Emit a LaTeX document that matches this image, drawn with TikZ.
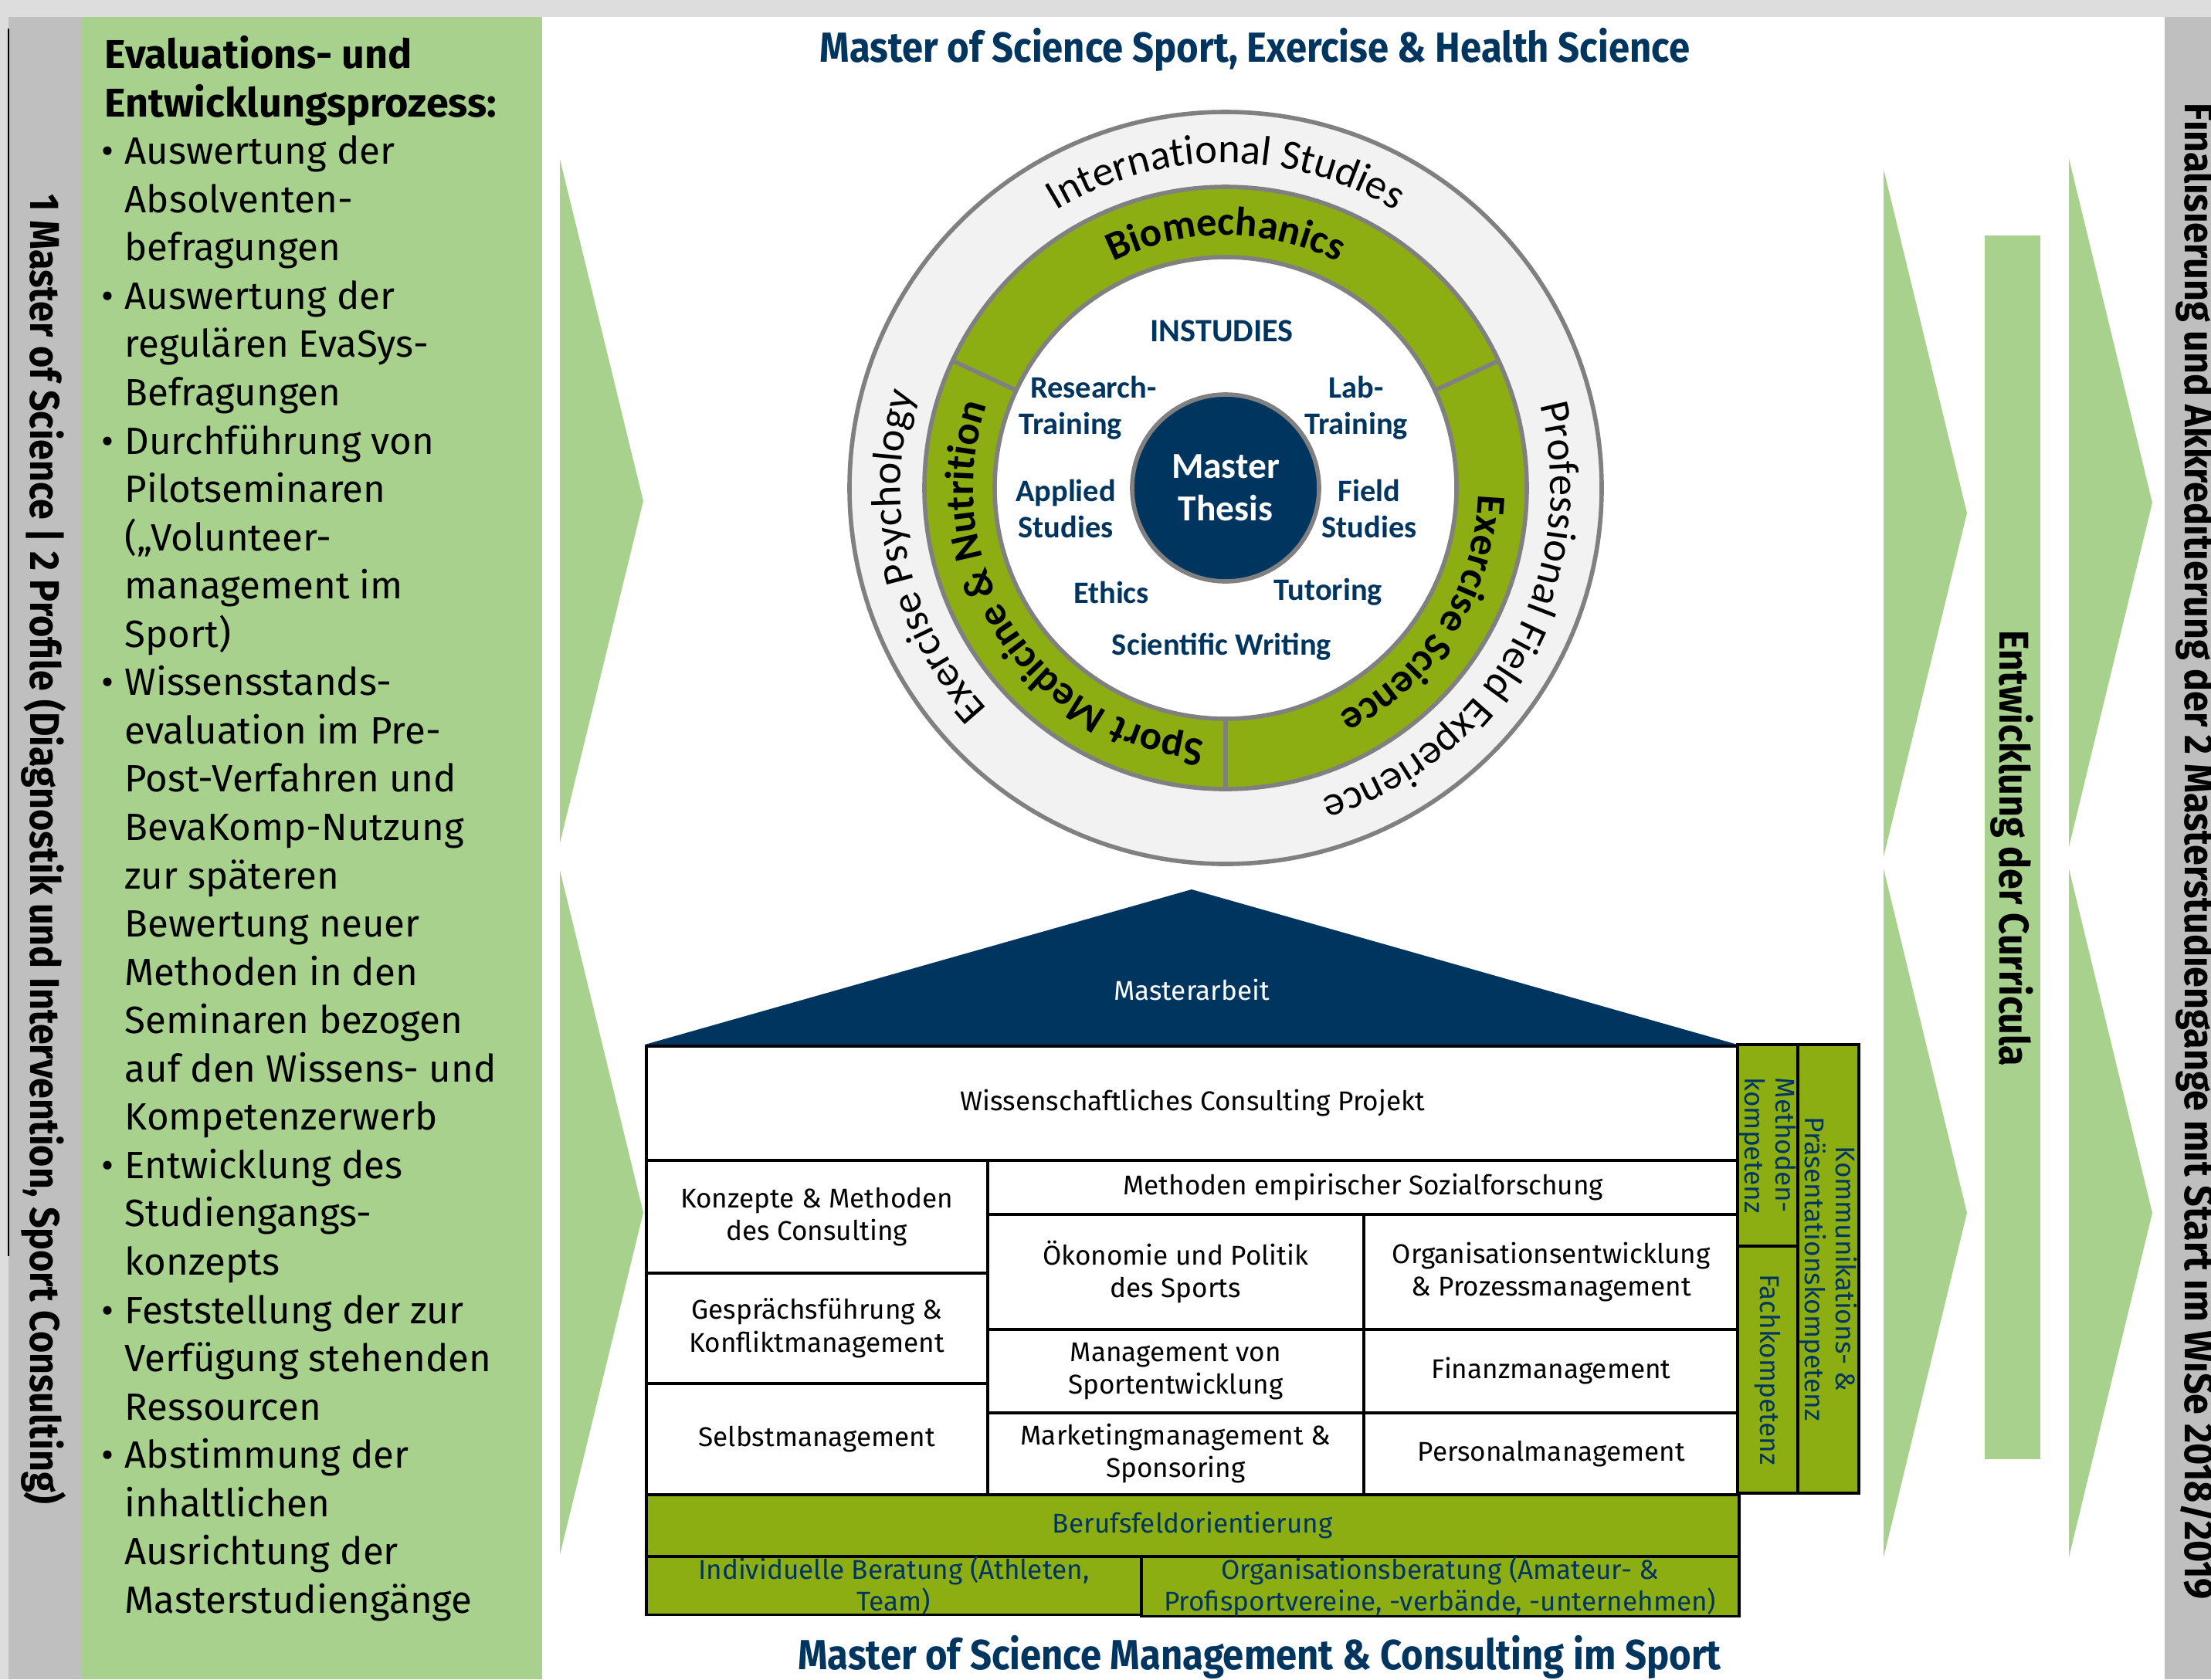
\documentclass[tikz,border=0pt]{standalone}
\usepackage{fontspec}
\usepackage{tikz}
\usetikzlibrary{decorations.text}

\setmainfont{Fira Sans}
\newfontfamily\calfont{Carlito}
\newfontfamily\condfont[FakeStretch=0.9]{Fira Sans}

\definecolor{lightgreen}{RGB}{169,209,142}
\definecolor{olive}{RGB}{141,174,18}
\definecolor{navy}{RGB}{0,53,96}
\definecolor{stripgray}{RGB}{191,191,191}
\definecolor{topgray}{RGB}{221,221,221}
\definecolor{ringgray}{RGB}{128,128,128}
\definecolor{ringfill}{RGB}{242,242,242}

\newcommand{\ringfont}{\calfont\fontsize{15.5}{18}\selectfont}
\newcommand{\ringbold}{\calfont\bfseries\fontsize{15}{18}\selectfont}
\newcommand{\itembullet}{\llap{\textbullet\hspace{4pt}}}

\tikzset{
  cell/.style={draw, line width=1pt, fill=white, inner sep=0pt, anchor=north west, align=center, font=\fontsize{10}{12}\selectfont},
  band/.style={cell, fill=olive, text=navy, font=\fontsize{10}{10.4}\selectfont},
  skill/.style={draw, line width=1pt, fill=olive, text=navy, inner sep=0pt, rotate=-90, align=center, font=\fontsize{10}{11.2}\selectfont},
  inlab/.style={text=navy, align=center, font=\calfont\bfseries\fontsize{11.5}{13.5}\selectfont},
  headline/.style={text=navy, font=\condfont\bfseries\fontsize{15.5}{18}\selectfont},
  sidetext/.style={rotate=-90, font=\condfont\bfseries\fontsize{15.3}{18}\selectfont},
  ringtext/.style={decorate, decoration={text along path, text align=center, text={#1}}}
}

\begin{document}
\begin{tikzpicture}
\useasboundingbox (0,0) rectangle (28.63,-21.75);

% frame and side strips
\fill[topgray] (0,0) rectangle (28.63,-0.22);
\fill[topgray] (0,-0.22) rectangle (0.11,-21.75);
\fill[stripgray] (0.11,-0.22) rectangle (1.06,-21.75);
\fill[lightgreen] (1.06,-0.22) rectangle (7.02,-21.75);
\fill[stripgray] (28.03,-0.22) rectangle (28.63,-21.75);
\draw[line width=0.5pt] (0.11,-0.37) -- (0.11,-16.27);

\node[sidetext] (profile) at (0.57,-11.00) {1 Master of Science | 2 Profile (Diagnostik und Intervention, Sport Consulting)};
\node[sidetext] (final) at (28.45,-11.03) {Finalisierung und Akkreditierung der 2 Masterstudiengänge mit Start im WiSe 2018/2019};

% evaluation panel
\node[anchor=north west, align=left, inner sep=0pt, font=\bfseries\fontsize{14.8}{17.8}\selectfont] (evalhead) at (1.35,-0.46) {Evaluations- und\\Entwicklungsprozess:};
\node[anchor=north west, align=left, inner sep=0pt, font=\fontsize{14}{17.8}\selectfont] (evallist) at (1.61,-1.75) {%
\itembullet Auswertung der\\
Absolventen-\\
befragungen\\
\itembullet Auswertung der\\
regulären EvaSys-\\
Befragungen\\
\itembullet Durchführung von\\
Pilotseminaren\\
(„Volunteer-\\
management im\\
Sport)\\
\itembullet Wissensstands-\\
evaluation im Pre-\\
Post-Verfahren und\\
BevaKomp-Nutzung\\
zur späteren\\
Bewertung neuer\\
Methoden in den\\
Seminaren bezogen\\
auf den Wissens- und\\
Kompetenzerwerb\\
\itembullet Entwicklung des\\
Studiengangs-\\
konzepts\\
\itembullet Feststellung der zur\\
Verfügung stehenden\\
Ressourcen\\
\itembullet Abstimmung der\\
inhaltlichen\\
Ausrichtung der\\
Masterstudiengänge};

% arrows
\foreach \x/\t/\b in {7.25/-2.06/-10.92, 7.25/-11.27/-20.14, 24.39/-2.19/-11.10, 24.39/-11.25/-20.17, 26.79/-2.05/-10.97, 26.79/-11.25/-20.17}
  \fill[lightgreen] (\x,\t) -- (\x+1.08,{(\t+\b)/2}) -- (\x,\b) -- cycle;
\fill[lightgreen] (25.70,-3.05) rectangle (26.42,-18.90);
\node[sidetext] (curricula) at (26.05,-10.99) {Entwicklung der Curricula};

% titles
\node[headline] (mses) at (16.25,-0.64) {Master of Science Sport, Exercise \& Health Science};
\node[headline] (mmcs) at (16.31,-21.46) {Master of Science Management \& Consulting im Sport};

% circle
\coordinate (c) at (15.87,-6.32);
\draw[ringgray, line width=1.6pt, fill=ringfill] (c) circle (4.87);
\draw[ringgray, line width=1.6pt, fill=olive] (c) circle (3.90);
\draw[ringgray, line width=1.6pt, fill=white] (c) circle (2.99);
\foreach \a in {25,155,270}
  \draw[ringgray, line width=1.6pt] (c) ++(\a:2.99) -- ++(\a:0.91);
\node[circle, draw=ringgray, line width=1.6pt, fill=navy, minimum size=2.42cm, inner sep=0pt, text=white, align=center, font=\calfont\bfseries\fontsize{13.5}{15.6}\selectfont] (thesis) at (c) {Master\\Thesis};

\path[ringtext={|\ringfont|International Studies}] (c) ++(160:4.21) arc[start angle=160, end angle=20, radius=4.21];
\path[ringtext={|\ringfont|Professional Field Experience}] (c) ++(41:4.21) arc[start angle=41, end angle=-99, radius=4.21];
\path[ringtext={|\ringfont|Exercise Psychology}] (c) ++(263:4.21) arc[start angle=263, end angle=123, radius=4.21];
\path[ringtext={|\ringbold|Biomechanics}] (c) ++(160:3.27) arc[start angle=160, end angle=20, radius=3.27];
\path[ringtext={|\ringbold|Exercise Science}] (c) ++(37.5:3.27) arc[start angle=37.5, end angle=-102.5, radius=3.27];
\path[ringtext={|\ringbold|Sport Medicine {\&} Nutrition}] (c) ++(283:3.27) arc[start angle=283, end angle=143, radius=3.27];

\node[inlab, font=\calfont\bfseries\fontsize{12}{14}\selectfont] (instudies) at (15.82,-4.29) {INSTUDIES};
\node[inlab] (research) at (13.86,-5.28) {\hspace*{17pt}Research-\\Training};
\node[inlab] (lab) at (17.56,-5.28) {Lab-\\Training};
\node[inlab] (applied) at (13.80,-6.59) {Applied\\Studies};
\node[inlab] (field) at (17.73,-6.59) {Field\\Studies};
\node[inlab] (ethics) at (14.39,-7.67) {Ethics};
\node[inlab] (tutoring) at (17.20,-7.67) {Tutoring};
\node[inlab] (writing) at (15.82,-8.38) {Scientific Writing};

% house
\fill[navy] (8.35,-13.53) -- (15.43,-11.52) -- (22.50,-13.53) -- cycle;
\node[text=white, font=\fontsize{10}{12}\selectfont] (roof) at (15.43,-12.82) {Masterarbeit};

\node[cell, minimum width=14.15cm, minimum height=1.48cm] (wiss) at (8.35,-13.53) {Wissenschaftliches Consulting Projekt};
\node[cell, minimum width=4.42cm, minimum height=1.46cm] (konz) at (8.35,-15.01) {Konzepte \& Methoden\\des Consulting};
\node[cell, minimum width=4.42cm, minimum height=1.43cm] (gespr) at (8.35,-16.47) {Gesprächsführung \&\\Konfliktmanagement};
\node[cell, minimum width=4.42cm, minimum height=1.44cm] (selbst) at (8.35,-17.90) {Selbstmanagement};
\node[cell, minimum width=9.73cm, minimum height=0.70cm] (empir) at (12.77,-15.01) {Methoden empirischer Sozialforschung};
\node[cell, minimum width=4.87cm, minimum height=1.49cm] (oeko) at (12.77,-15.71) {Ökonomie und Politik\\des Sports};
\node[cell, minimum width=4.86cm, minimum height=1.49cm] (orga) at (17.64,-15.71) {Organisationsentwicklung\\\& Prozessmanagement};
\node[cell, minimum width=4.87cm, minimum height=1.08cm] (sportent) at (12.77,-17.20) {Management von\\Sportentwicklung};
\node[cell, minimum width=4.86cm, minimum height=1.08cm] (finanz) at (17.64,-17.20) {Finanzmanagement};
\node[cell, minimum width=4.87cm, minimum height=1.06cm] (marketing) at (12.77,-18.28) {Marketingmanagement \&\\Sponsoring};
\node[cell, minimum width=4.86cm, minimum height=1.06cm] (personal) at (17.64,-18.28) {Personalmanagement};
\node[band, minimum width=14.15cm, minimum height=0.80cm] (beruf) at (8.35,-19.34) {Berufsfeldorientierung};
\node[band, minimum width=6.41cm, minimum height=0.73cm] (indiv) at (8.35,-20.14) {Individuelle Beratung (Athleten,\\Team)};
\node[band, minimum width=7.74cm, minimum height=0.73cm] (orgber) at (14.76,-20.14) {Organisationsberatung (Amateur- \&\\Profisportvereine, -verbände, -unternehmen)};

\node[skill, minimum width=2.61cm, minimum height=0.78cm] (methk) at (22.89,-14.835) {Methoden-\\kompetenz};
\node[skill, minimum width=3.20cm, minimum height=0.78cm] (fachk) at (22.89,-17.74) {Fachkompetenz};
\node[skill, minimum width=5.81cm, minimum height=0.79cm] (kommk) at (23.675,-16.435) {Kommunikations- \&\\Präsentationskompetenz};
\end{tikzpicture}
\end{document}
